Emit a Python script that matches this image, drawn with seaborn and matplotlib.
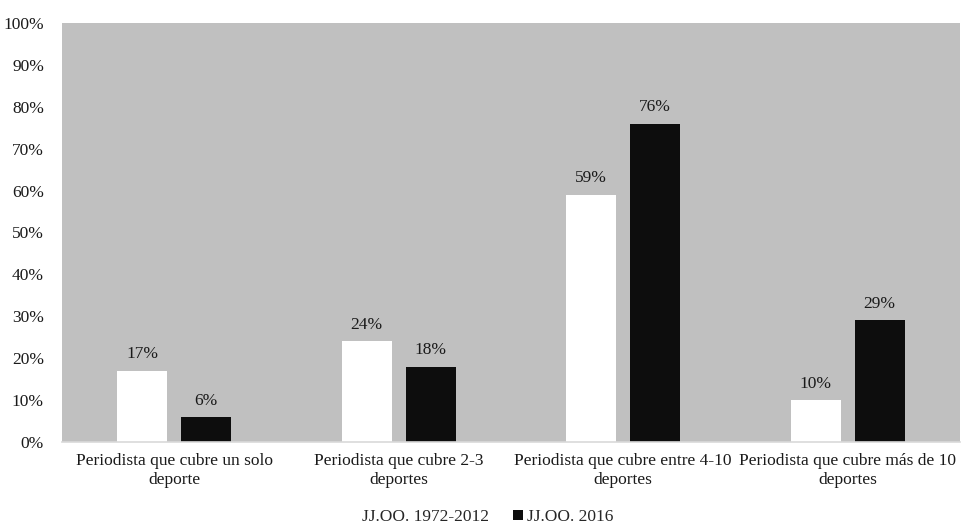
import matplotlib
matplotlib.use("Agg")
import matplotlib.pyplot as plt
import seaborn as sns
import pandas as pd
from matplotlib.patches import Patch
from matplotlib.ticker import MultipleLocator, FuncFormatter

categories = [
    "Periodista que cubre un solo\ndeporte",
    "Periodista que cubre 2-3\ndeportes",
    "Periodista que cubre entre 4-10\ndeportes",
    "Periodista que cubre más de 10\ndeportes",
]
series_names = ["JJ.OO. 1972-2012", "JJ.OO. 2016"]
values_1972_2012 = [17, 24, 59, 10]
values_2016 = [6, 18, 76, 29]
colors = ["#ffffff", "#0d0d0d"]

df = pd.DataFrame({
    "cat": categories * 2,
    "serie": [series_names[0]] * 4 + [series_names[1]] * 4,
    "val": values_1972_2012 + values_2016,
})

sns.set_theme(style="white")
plt.rcParams["font.family"] = ["Liberation Serif", "DejaVu Serif"]
FS = 12.5

fig = plt.figure(figsize=(9.61, 5.25), dpi=100)
ax = fig.add_axes([62 / 961, 1 - 442 / 525, (960 - 62) / 961, (442 - 23) / 525])
ax.set_facecolor("#c0c0c0")

sns.barplot(data=df, x="cat", y="val", hue="serie", hue_order=series_names,
            order=categories, palette=colors, width=0.57, gap=0.22,
            saturation=1, edgecolor="none", linewidth=0, ax=ax, legend=False)

for cont in ax.containers:
    ax.bar_label(cont, labels=[f"{v:.0f}%" for v in cont.datavalues],
                 padding=6, fontsize=FS, color="#1a1a1a")

ax.set_ylim(0, 100)
ax.yaxis.set_major_locator(MultipleLocator(10))
ax.yaxis.set_major_formatter(FuncFormatter(lambda v, _: f"{v:.0f}%"))
ax.set_xlabel("")
ax.set_ylabel("")
ax.tick_params(axis="both", length=0, labelsize=FS, colors="#1a1a1a")
ax.tick_params(axis="x", pad=8)
ax.tick_params(axis="y", pad=13)
for side in ["left", "right", "top"]:
    ax.spines[side].set_visible(False)
ax.spines["bottom"].set_color("#d9d9d9")
ax.spines["bottom"].set_linewidth(1.2)

handles = [Patch(facecolor=c, edgecolor="none") for c in colors]
fig.legend(handles, series_names, loc="center", bbox_to_anchor=(0.5, 1 - 517 / 525),
           ncol=2, frameon=False, fontsize=FS, handlelength=0.55, handleheight=0.55,
           handletextpad=0.25, columnspacing=1.4)

fig.savefig("out.png", dpi=100, facecolor="white")
